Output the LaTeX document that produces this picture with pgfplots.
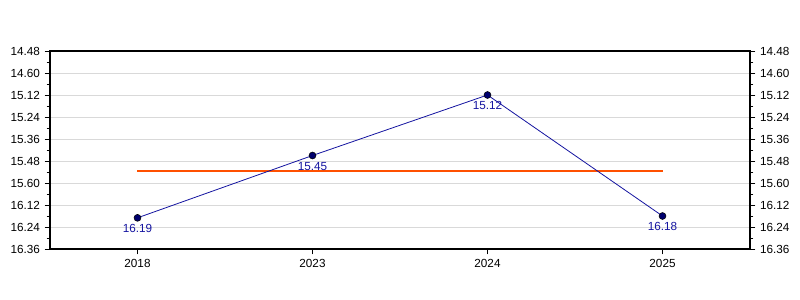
\documentclass[border=0pt]{standalone}
\usepackage{pgfplots}
\pgfplotsset{compat=1.18}
\usepackage{fontspec}
\setmainfont{Liberation Sans}
\definecolor{linec}{RGB}{20,20,160}
\definecolor{markc}{RGB}{0,0,110}
\definecolor{avgc}{RGB}{255,80,0}
\begin{document}
\begin{tikzpicture}
\pgfplotsset{
  common/.style={
    at={(0,0)}, anchor=south west,
    scale only axis, width=525pt, height=148.5pt,
    xmin=-0.5, xmax=3.5, ymin=888, ymax=996, y dir=reverse,
    ytick={888,900,912,924,936,948,960,972,984,996},
    yticklabels={14.48,14.60,15.12,15.24,15.36,15.48,15.60,16.12,16.24,16.36},
    minor y tick num=1,
    tick align=outside,
    major tick length=4pt, minor tick length=2.5pt,
    tick style={black, line width=0.6pt},
    axis line style={black, line width=0.85pt},
    ticklabel style={font=\fontsize{8.8}{10}\selectfont},
    /pgf/number format/assume math mode=true,
  }
}
\begin{axis}[common,
  xtick={0,1,2,3}, xticklabels={2018,2023,2024,2025},
  xtick pos=bottom, ytick pos=left,
  ymajorgrids, major grid style={gray!30, line width=0.6pt},
]
\addplot[avgc, line width=1.5pt, forget plot] coordinates {(0,953.5) (3,953.5)};
\addplot[linec, line width=0.6pt, mark=*, mark size=2.6pt,
  mark options={fill=markc, draw=black, line width=0.4pt},
  point meta=explicit symbolic,
  nodes near coords={\pgfplotspointmeta},
  nodes near coords style={anchor=north, yshift=-1.5pt, text=linec, font=\fontsize{8.8}{10}\selectfont},
] table[meta=lab] {
x y lab
0 979 16.19
1 945 15.45
2 912 15.12
3 978 16.18
};
\end{axis}
\begin{axis}[common,
  xtick=\empty, ytick pos=right, yticklabel pos=right,
  axis x line*=top, axis y line*=right,
]
\addplot[draw=none] coordinates {(0,900)};
\end{axis}
\useasboundingbox (-37.5pt,-38.25pt) rectangle (562.5pt,186.75pt);
\end{tikzpicture}
\end{document}
